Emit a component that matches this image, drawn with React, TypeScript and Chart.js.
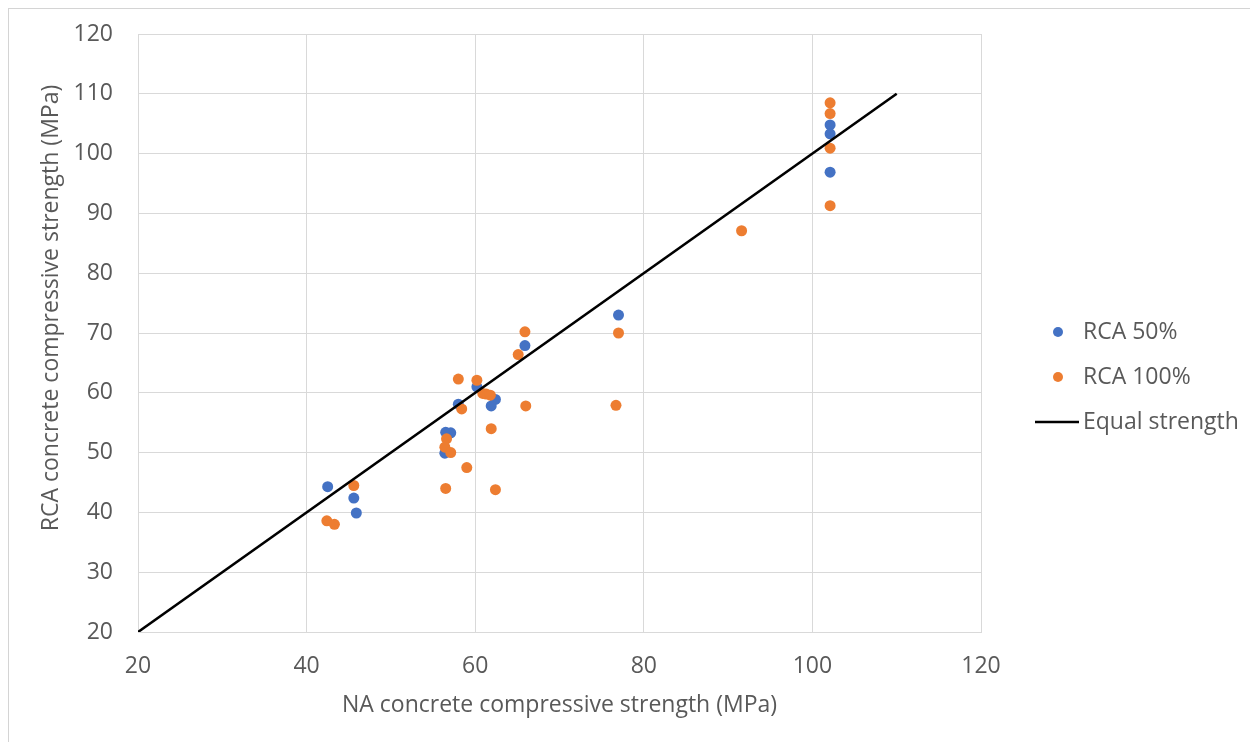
import React, { useEffect, useRef } from "react";
import { Chart, registerables } from "chart.js";

Chart.register(...registerables);

const rca50X = [42.5, 45.6, 45.9, 56.5, 57.1, 56.4, 58.0, 60.2, 62.4, 61.9, 65.9, 77.0, 102.1, 102.1, 102.1];
const rca50Y = [44.3, 42.4, 39.9, 53.4, 53.3, 49.9, 58.1, 61.0, 58.9, 57.8, 67.9, 73.0, 104.8, 103.3, 96.9];

const rca100X = [42.4, 43.3, 45.6, 56.5, 56.6, 56.4, 57.1, 59.0, 58.0, 58.4, 60.2, 60.9, 61.3, 61.8, 61.9, 62.4, 65.1, 65.9, 66.0, 77.0, 76.7, 91.6, 102.1, 102.1, 102.1, 102.1];
const rca100Y = [38.6, 38.0, 44.5, 44.0, 52.3, 50.9, 50.0, 47.5, 62.3, 57.3, 62.1, 59.9, 59.8, 59.6, 54.0, 43.8, 66.4, 70.2, 57.8, 70.0, 57.9, 87.1, 108.5, 106.7, 100.9, 91.3];

const equalX = [20, 110];
const equalY = [20, 110];

const seriesNames = ["RCA 50%", "RCA 100%", "Equal strength"];
const xTitle = "NA concrete compressive strength (MPa)";
const yTitle = "RCA concrete compressive strength (MPa)";

const BLUE = "#4472C4";
const ORANGE = "#ED7D31";
const TEXT = "#595959";
const GRID = "#d9d9d9";
const FONT = "'Open Sans', sans-serif";
const FSIZE = 23;

const zip = (xs: number[], ys: number[]) => xs.map((x, i) => ({ x, y: ys[i] }));

const legendPlugin = {
  id: "excelLegend",
  afterDraw(chart: any) {
    const { ctx, chartArea } = chart;
    const mid = (chartArea.top + chartArea.bottom) / 2;
    const baseX = chartArea.right;
    ctx.save();
    ctx.font = `${FSIZE}px ${FONT}`;
    ctx.textBaseline = "middle";
    ctx.textAlign = "left";
    chart.data.datasets.forEach((ds: any, i: number) => {
      const y = mid - 1 + i * 45;
      if (ds.showLine) {
        ctx.strokeStyle = ds.borderColor;
        ctx.lineWidth = 2.5;
        ctx.beginPath();
        ctx.moveTo(baseX + 54, y);
        ctx.lineTo(baseX + 98, y);
        ctx.stroke();
      } else {
        ctx.fillStyle = ds.backgroundColor;
        ctx.beginPath();
        ctx.arc(baseX + 77, y, 5, 0, Math.PI * 2);
        ctx.fill();
      }
      ctx.fillStyle = TEXT;
      ctx.fillText(ds.label, baseX + 102, y);
    });
    // y axis title (Excel places it slightly above the plot centre)
    ctx.translate(chartArea.left - 87, mid - 25);
    ctx.rotate(-Math.PI / 2);
    ctx.textAlign = "center";
    ctx.fillStyle = TEXT;
    ctx.fillText(yTitle, 0, 0);
    ctx.restore();
  },
};

export default function App() {
  const ref = useRef<HTMLCanvasElement>(null);

  useEffect(() => {
    if (!ref.current) return;
    const chart = new Chart(ref.current, {
      type: "scatter",
      data: {
        datasets: [
          {
            label: seriesNames[0],
            data: zip(rca50X, rca50Y),
            backgroundColor: BLUE,
            borderColor: BLUE,
            borderWidth: 0,
            pointRadius: 5.5,
            order: 2,
          },
          {
            label: seriesNames[1],
            data: zip(rca100X, rca100Y),
            backgroundColor: ORANGE,
            borderColor: ORANGE,
            borderWidth: 0,
            pointRadius: 5.5,
            order: 1,
          },
          {
            label: seriesNames[2],
            data: zip(equalX, equalY),
            showLine: true,
            borderColor: "#000000",
            backgroundColor: "#000000",
            borderWidth: 2.6,
            pointRadius: 0,
            order: 0,
          } as any,
        ],
      },
      options: {
        animation: false,
        responsive: false,
        maintainAspectRatio: false,
        layout: { padding: { left: 30, top: 25, right: 277, bottom: 23 } },
        plugins: {
          legend: { display: false },
          tooltip: { enabled: false },
        },
        scales: {
          x: {
            type: "linear",
            min: 20,
            max: 120,
            ticks: {
              stepSize: 20,
              color: TEXT,
              font: { family: FONT, size: FSIZE },
              padding: 21,
            },
            grid: { color: GRID, lineWidth: 1, drawTicks: false },
            border: { display: true, color: GRID },
            title: {
              display: true,
              text: xTitle,
              color: TEXT,
              font: { family: FONT, size: FSIZE },
              padding: 0,
            },
            afterFit: (s: any) => {
              s.height = 87;
            },
          },
          y: {
            type: "linear",
            min: 20,
            max: 120,
            ticks: {
              stepSize: 10,
              color: TEXT,
              font: { family: FONT, size: FSIZE },
              padding: 25,
            },
            grid: { color: GRID, lineWidth: 1, drawTicks: false },
            border: { display: true, color: GRID },
            title: { display: false, text: yTitle },
            afterFit: (s: any) => {
              s.width = 99;
              s.paddingTop = 12;
              s.paddingBottom = 12;
            },
          },
        },
      },
      plugins: [legendPlugin],
    });
    return () => chart.destroy();
  }, []);

  return (
    <div
      style={{
        width: 1250,
        height: 734,
        borderTop: "1px solid #d4d4d4",
        borderLeft: "1px solid #d4d4d4",
        background: "#fff",
        overflow: "hidden",
      }}
    >
      <canvas ref={ref} width={1249} height={733} style={{ display: "block" }} />
    </div>
  );
}
